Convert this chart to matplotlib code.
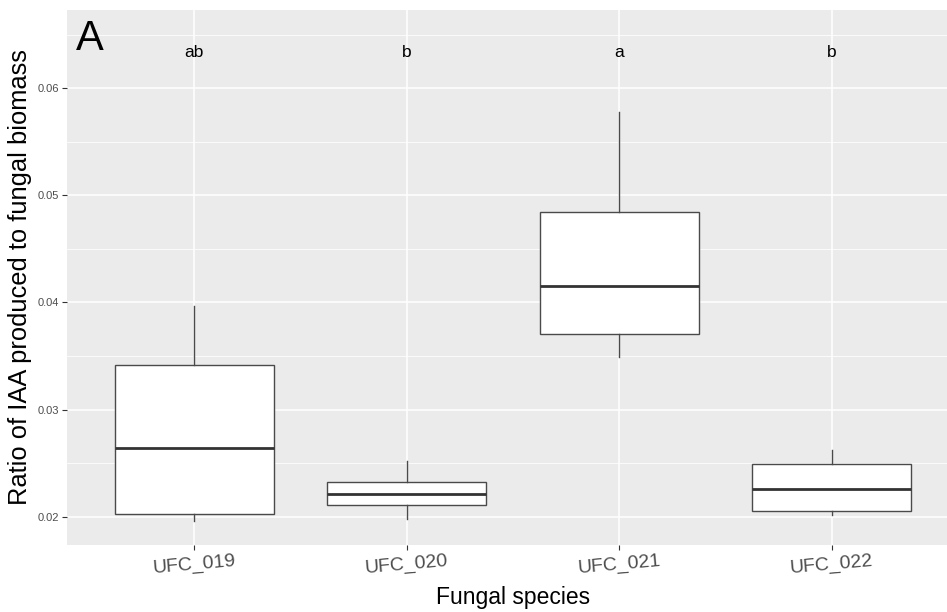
import matplotlib.pyplot as plt
from matplotlib.ticker import MultipleLocator

plt.rcParams['font.family'] = ['Liberation Sans', 'DejaVu Sans']

# data
species = ["UFC_019", "UFC_020", "UFC_021", "UFC_022"]
whislo = [0.0196, 0.01976, 0.03494, 0.02016]
q1 = [0.02025, 0.02106, 0.03709, 0.02056]
med = [0.02639, 0.02209, 0.04157, 0.02256]
q3 = [0.03416, 0.02324, 0.04845, 0.02492]
whishi = [0.03965, 0.02523, 0.05781, 0.02623]
letters = ["ab", "b", "a", "b"]
letter_y = 0.06295

fig = plt.figure(figsize=(9.47, 6.12), dpi=100)
ax = fig.add_axes([66.9/947, 1-545/612, (959-66.9)/947, 535/612])
ax.set_facecolor('#EBEBEB')

stats = []
for i in range(len(species)):
    stats.append(dict(label=species[i], whislo=whislo[i], q1=q1[i], med=med[i],
                      q3=q3[i], whishi=whishi[i], fliers=[]))

edge = '#4a4a4a'
ax.bxp(stats, positions=range(len(species)), widths=0.75, patch_artist=True,
       showcaps=False, showfliers=False,
       boxprops=dict(facecolor='white', edgecolor=edge, linewidth=1.0),
       whiskerprops=dict(color=edge, linewidth=1.0),
       medianprops=dict(color='#333333', linewidth=2.0), zorder=3)

for i, lab in enumerate(letters):
    ax.text(i, letter_y, lab, ha='center', va='baseline', fontsize=12.5, color='black')

ax.text(0.0102, 0.925, "A", transform=ax.transAxes, fontsize=30, va='baseline', ha='left')

ax.set_xlim(-0.6, 3.6)
ax.set_ylim(0.017358, 0.06731)
ax.yaxis.set_major_locator(MultipleLocator(0.01))
ax.yaxis.set_minor_locator(MultipleLocator(0.005))
ax.set_yticks([0.02, 0.03, 0.04, 0.05, 0.06])
ax.set_yticklabels(["0.02", "0.03", "0.04", "0.05", "0.06"])
ax.set_xticks(range(len(species)))
ax.set_xticklabels(species, rotation=5, fontsize=14, color='#4D4D4D')

ax.grid(which='major', color='white', linewidth=1.1, zorder=0)
ax.grid(which='minor', axis='y', color='white', linewidth=0.55, zorder=0)
ax.set_axisbelow(True)
for s in ax.spines.values():
    s.set_visible(False)
ax.tick_params(axis='both', which='major', length=3.8, width=0.8, color='#333333')
ax.tick_params(axis='y', labelsize=8, labelcolor='#4D4D4D', pad=2)
ax.tick_params(axis='x', pad=2)
ax.tick_params(which='minor', length=0)

ax.set_xlabel("Fungal species", fontsize=16.5, labelpad=6)
ax.set_ylabel("Ratio of IAA produced to fungal biomass", fontsize=18.4, labelpad=4)

fig.savefig("out.png", dpi=100)
